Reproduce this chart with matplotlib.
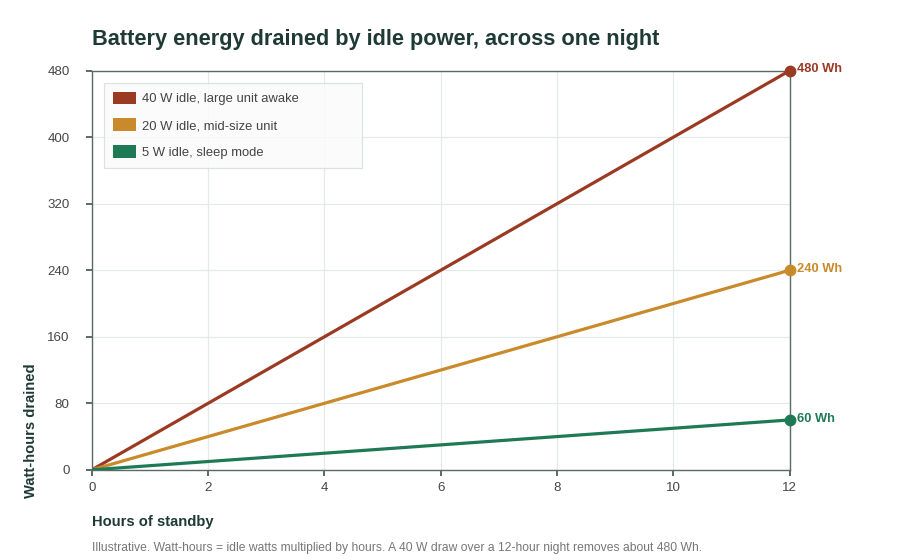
import matplotlib
matplotlib.use("Agg")
import matplotlib.pyplot as plt
from matplotlib.patches import Patch

plt.rcParams['font.family'] = ['Liberation Sans', 'DejaVu Sans']

# data
hours = [0, 1, 2, 3, 4, 5, 6, 7, 8, 9, 10, 11, 12]
wh_40w = [0, 40, 80, 120, 160, 200, 240, 280, 320, 360, 400, 440, 480]
wh_20w = [0, 20, 40, 60, 80, 100, 120, 140, 160, 180, 200, 220, 240]
wh_5w = [0, 5, 10, 15, 20, 25, 30, 35, 40, 45, 50, 55, 60]
series_labels = ["40 W idle, large unit awake", "20 W idle, mid-size unit", "5 W idle, sleep mode"]
end_labels = ["480 Wh", "240 Wh", "60 Wh"]
x_ticks = [0, 2, 4, 6, 8, 10, 12]
y_ticks = [0, 80, 160, 240, 320, 400, 480]

colors = ["#9b3a23", "#c98a2b", "#1e7a55"]
spine_col = "#5b6a66"
text_col = "#1f3a35"

fig = plt.figure(figsize=(9, 5.6), dpi=100)
ax = fig.add_axes([0.102, 0.161, 0.7756, 0.713])

for vals, col, lab in zip([wh_40w, wh_20w, wh_5w], colors, end_labels):
    ax.plot(hours, vals, color=col, linewidth=2.3, solid_capstyle='round', zorder=3)
    ax.plot(hours[-1], vals[-1], 'o', color=col, markersize=7.5, zorder=4, clip_on=False)
    ax.annotate(lab, (hours[-1], vals[-1]), xytext=(5, 1), textcoords='offset points',
                color=col, fontsize=9.3, fontweight='bold', va='center', ha='left',
                annotation_clip=False)

ax.set_xlim(0, 12)
ax.set_ylim(0, 480)
ax.set_xticks(x_ticks)
ax.set_yticks(y_ticks)
ax.grid(True, color="#e4eae8", linewidth=0.9, zorder=0)
ax.set_axisbelow(True)
for s in ax.spines.values():
    s.set_color(spine_col)
    s.set_linewidth(1.0)
ax.tick_params(colors=spine_col, labelcolor="#474747", labelsize=9.6, length=4, width=1.4)
ax.tick_params(axis='y', pad=12)
ax.tick_params(axis='x', pad=5)

handles = [Patch(facecolor=c, edgecolor='none') for c in colors]
leg = ax.legend(handles, series_labels, loc='upper left',
                bbox_to_anchor=(0.017, 0.97, 0.37, 0.0), mode='expand',
                fontsize=9.4, frameon=True, fancybox=False, borderpad=0.7,
                labelspacing=1.0, handlelength=1.75, handleheight=1.1,
                handletextpad=0.5, borderaxespad=0)
leg.get_frame().set_edgecolor("#d5dcda")
leg.get_frame().set_facecolor("#fbfbfb")
leg.get_frame().set_linewidth(0.9)
for t in leg.get_texts():
    t.set_color("#444444")

fig.text(0.102, 0.929, "Battery energy drained by idle power, across one night",
         fontsize=15.7, fontweight='bold', color=text_col, va='center', ha='left')
fig.text(0.102, 0.068, "Hours of standby", fontsize=10.6, fontweight='bold',
         color=text_col, va='center', ha='left')
fig.text(0.034, 0.11, "Watt-hours drained", fontsize=10.6, fontweight='bold',
         color=text_col, rotation=90, va='bottom', ha='center')
fig.text(0.102, 0.021,
         "Illustrative. Watt-hours = idle watts multiplied by hours. A 40 W draw over a 12-hour night removes about 480 Wh.",
         fontsize=8.7, color="#777777", va='center', ha='left')

fig.savefig("out.png", dpi=100)
